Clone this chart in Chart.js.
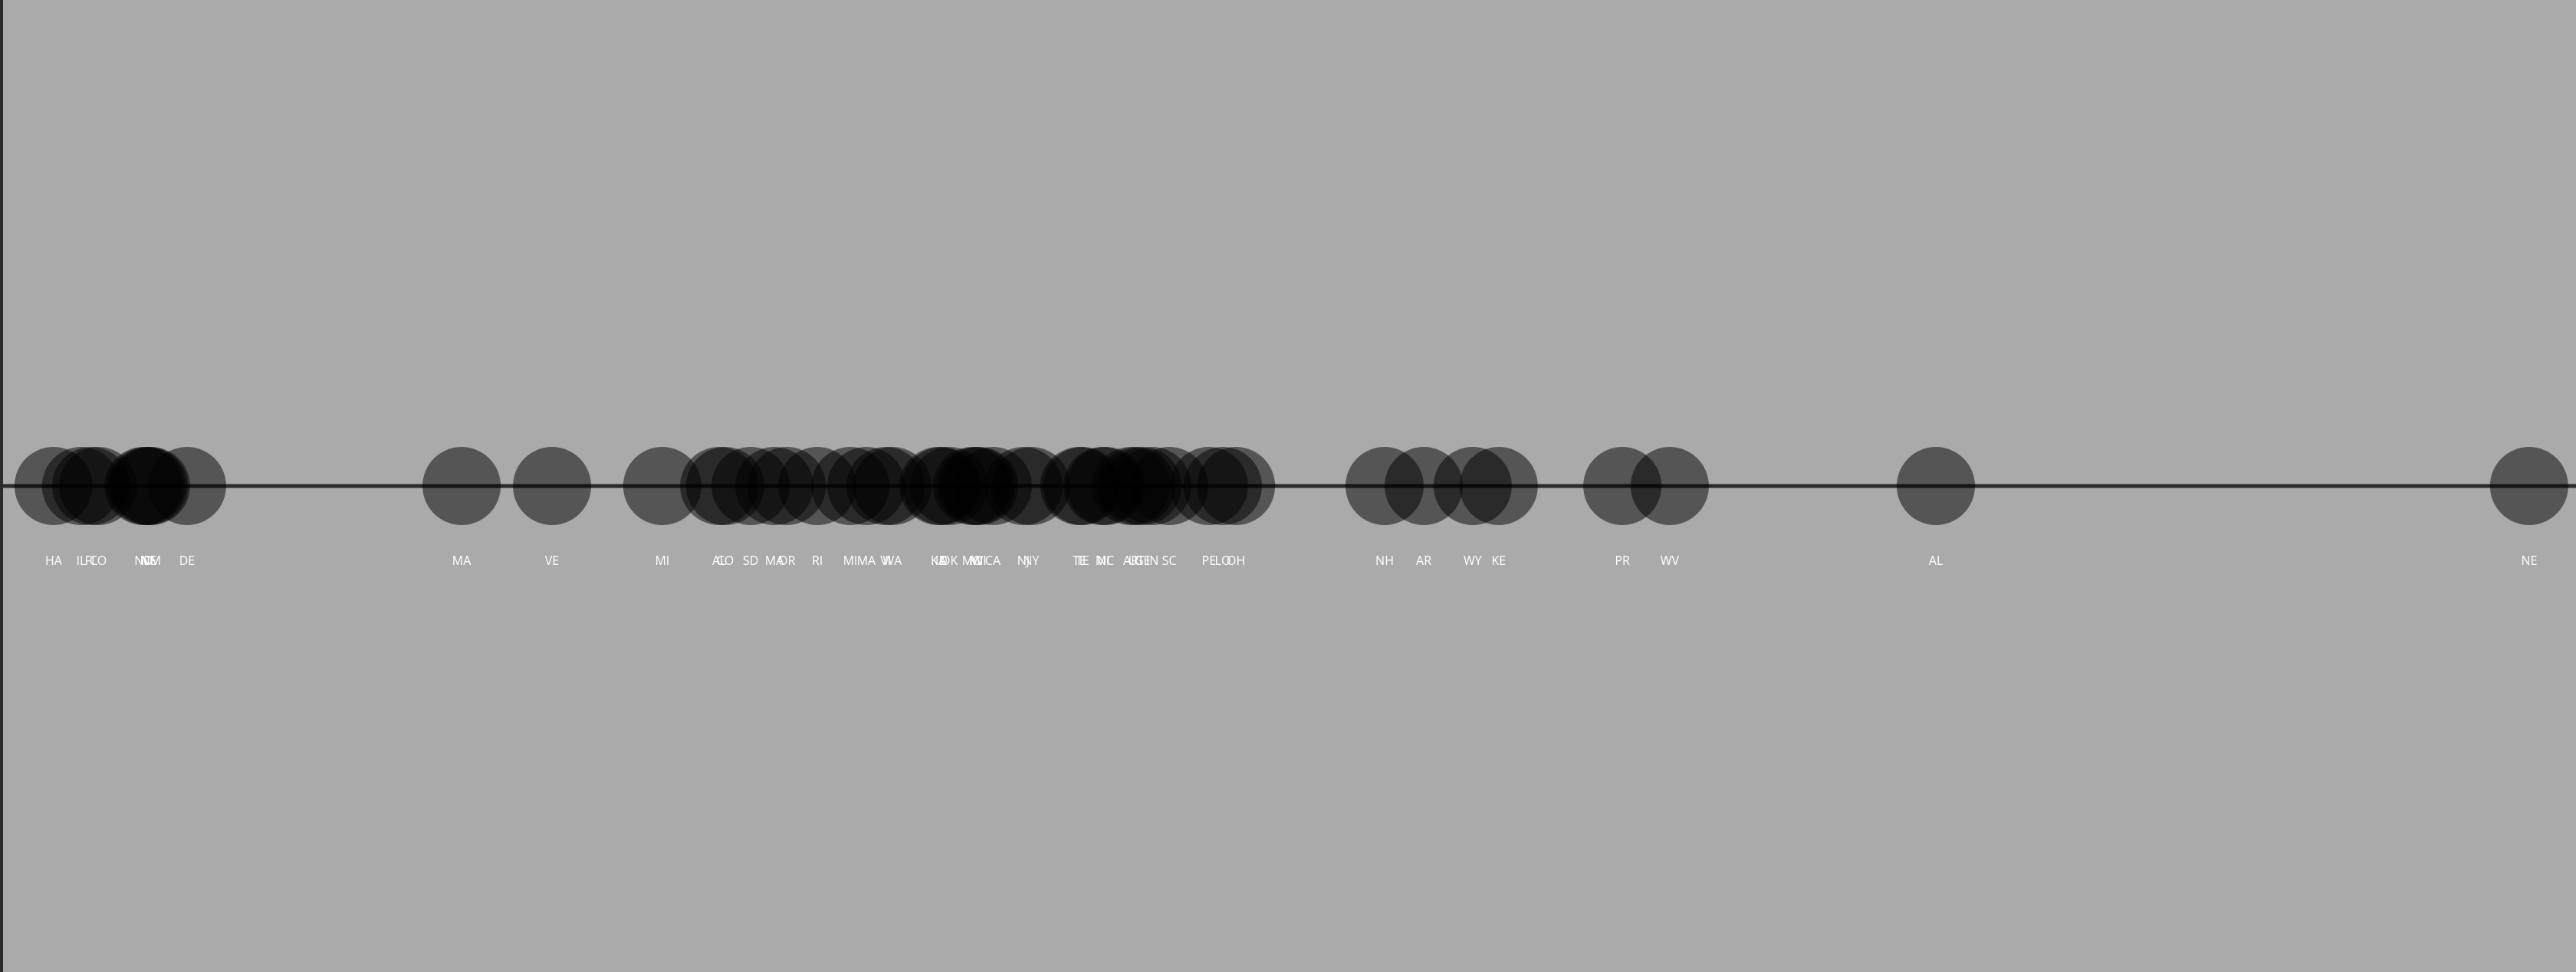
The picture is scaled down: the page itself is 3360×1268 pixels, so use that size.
<!DOCTYPE html>
<html>
<head>
<meta charset="utf-8">
<style>
  html, body { margin: 0; padding: 0; background: #aaaaaa; overflow: hidden; }
  #wrap { width: 3360px; height: 1268px; }
</style>
<script src="https://cdn.jsdelivr.net/npm/chart.js@4"></script>
</head>
<body>
<div id="wrap"><canvas id="c" width="3360" height="1268"></canvas></div>
<script>
const labels = ["HA","IL","FL","CO","ND","IO","NE","NM","DE","MA","VE","MI","AL","CO","SD","MA","OR","RI","MI","MA","VI","WA","KA","ID","OK","MO","MI","WI","CA","NJ","NY","TE","TE","MI","NC","AR","UT","GE","IN","SC","PE","LO","OH","NH","AR","WY","KE","PR","WV","AL","NE"];
const values = [2.08,3.15,3.54,3.81,5.57,5.68,5.77,5.86,7.26,17.92,21.43,25.71,27.92,28.15,29.14,30.06,30.54,31.73,33.01,33.63,34.38,34.64,36.43,36.55,36.85,37.74,37.89,38.01,38.54,39.73,40.03,41.90,42.02,42.80,42.92,43.90,44.11,44.35,44.73,45.39,46.93,47.47,47.98,53.75,55.27,57.17,58.18,62.98,64.82,75.15,98.18];
const xRange = [0, 100];
const yRange = [-1, 1];

const points = values.map((v) => ({ x: v, y: 0 }));

const axisLines = {
  id: 'axisLines',
  beforeDatasetsDraw(chart) {
    const { ctx, scales: { x, y }, chartArea } = chart;
    ctx.save();
    const y0 = y.getPixelForValue(0);
    ctx.fillStyle = '#2b2b2b';
    ctx.fillRect(chartArea.left, y0 - 2.5, chartArea.right - chartArea.left, 5);
    const x0 = x.getPixelForValue(xRange[0]);
    ctx.fillRect(x0, chartArea.top, 4, chartArea.bottom - chartArea.top);
    ctx.restore();
  },
  afterDatasetsDraw(chart) {
    const { ctx, scales: { x, y } } = chart;
    ctx.save();
    ctx.fillStyle = '#ffffff';
    ctx.font = '16px "Open Sans", sans-serif';
    ctx.textAlign = 'center';
    ctx.textBaseline = 'middle';
    const yl = y.getPixelForValue(0) + 98;
    values.forEach((v, i) => {
      ctx.fillText(labels[i], x.getPixelForValue(v), yl);
    });
    ctx.restore();
  }
};

new Chart(document.getElementById('c'), {
  type: 'scatter',
  data: {
    datasets: [{
      data: points,
      backgroundColor: 'rgba(0,0,0,0.5)',
      borderWidth: 0,
      pointRadius: 51,
      pointHoverRadius: 51,
      clip: false
    }]
  },
  options: {
    responsive: false,
    animation: false,
    devicePixelRatio: 1,
    layout: { padding: 0, autoPadding: false },
    plugins: { legend: { display: false }, tooltip: { enabled: false } },
    events: [],
    scales: {
      x: { type: 'linear', min: xRange[0], max: xRange[1], display: false },
      y: { type: 'linear', min: yRange[0], max: yRange[1], display: false }
    }
  },
  plugins: [axisLines]
});
</script>
</body>
</html>
